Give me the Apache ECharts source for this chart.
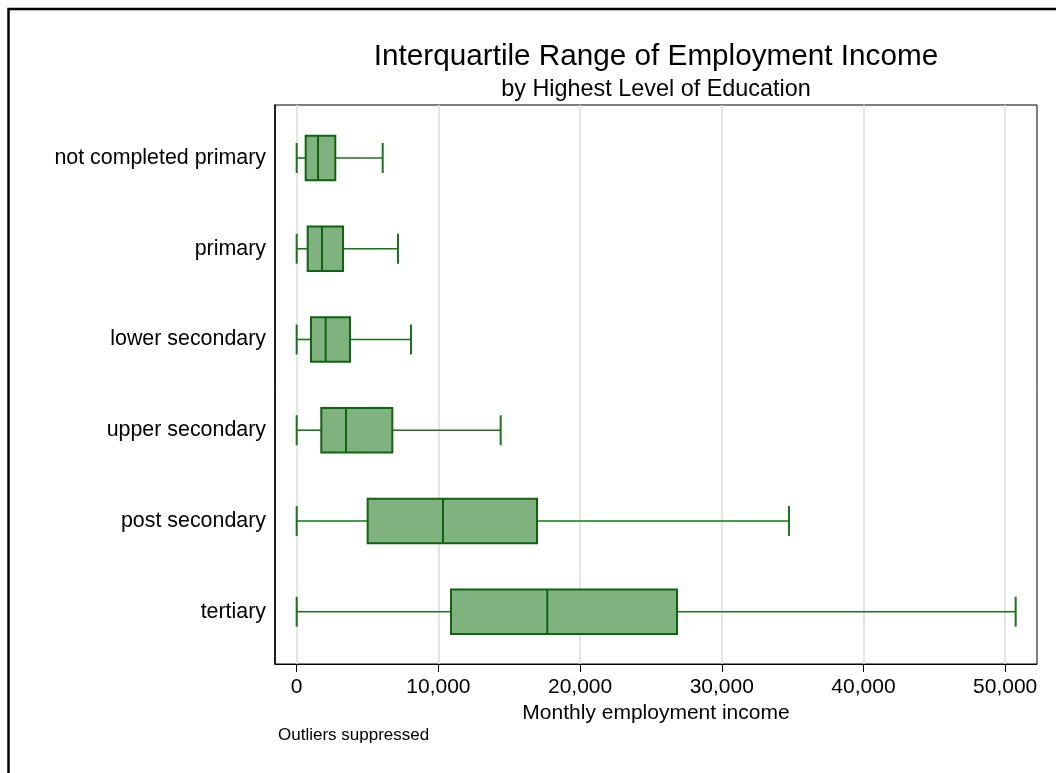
<!DOCTYPE html>
<html>
<head>
<meta charset="utf-8">
<title>Interquartile Range of Employment Income</title>
<script src="https://cdn.jsdelivr.net/npm/echarts@6/dist/echarts.min.js"></script>
<style>
  html, body { margin: 0; padding: 0; background: #fff; }
  #chart { width: 1056px; height: 773px; }
</style>
</head>
<body>
<div id="chart"></div>
<script>
// education levels, top to bottom
const categories = ['not completed primary', 'primary', 'lower secondary', 'upper secondary', 'post secondary', 'tertiary']
// box plot stats (monthly income), outliers suppressed
const lowerWhisker = [0, 0, 0, 0, 0, 0]
const q1 = [635, 776, 1009, 1737, 5010, 10890]
const median = [1503, 1786, 2046, 3479, 10325, 17686]
const q3 = [2725, 3267, 3762, 6748, 16960, 26840]
const upperWhisker = [6070, 7150, 8066, 14397, 34740, 50740]
const xTicks = [0, 10000, 20000, 30000, 40000, 50000]

const FONT = "'Liberation Sans', Arial, Helvetica, sans-serif"
const BOX_FILL = '#80b280'
const BOX_LINE = '#0d660d'
const WHISKER = '#177517'

const chart = echarts.init(document.getElementById('chart'))

const boxData = categories.map((name, i) => [i, lowerWhisker[i], q1[i], median[i], q3[i], upperWhisker[i]])

function renderBox(params, api) {
  const i = api.value(0)
  const y = api.coord([0, i])[1]
  const band = api.size([0, 1])[1]
  const x = k => api.coord([api.value(k), i])[0]
  const lo = x(1), a = x(2), m = x(3), b = x(4), hi = x(5)
  const half = band * 0.245
  const cap = band * 0.165
  const whisker = { stroke: WHISKER, lineWidth: 1.6 }
  const capStyle = { stroke: WHISKER, lineWidth: 2 }
  return {
    type: 'group',
    children: [
      { type: 'line', shape: { x1: lo, y1: y, x2: a, y2: y }, style: whisker },
      { type: 'line', shape: { x1: b, y1: y, x2: hi, y2: y }, style: whisker },
      { type: 'line', shape: { x1: lo, y1: y - cap, x2: lo, y2: y + cap }, style: capStyle },
      { type: 'line', shape: { x1: hi, y1: y - cap, x2: hi, y2: y + cap }, style: capStyle },
      { type: 'rect', shape: { x: a, y: y - half, width: b - a, height: half * 2 }, style: { fill: BOX_FILL, stroke: BOX_LINE, lineWidth: 2 } },
      { type: 'line', shape: { x1: m, y1: y - half, x2: m, y2: y + half }, style: { stroke: BOX_LINE, lineWidth: 2 } }
    ]
  }
}

const option = {
  animation: false,
  backgroundColor: '#fff',
  textStyle: { fontFamily: FONT },
  graphic: [
    {
      type: 'rect', silent: true,
      shape: { x: 8.5, y: 9, width: 1100, height: 800 },
      style: { fill: 'none', stroke: '#000', lineWidth: 2.5 }
    },
    {
      type: 'text', x: 656, y: 57,
      style: { text: 'Interquartile Range of Employment Income', fontSize: 29.7, fontFamily: FONT, fill: '#000', align: 'center', verticalAlign: 'middle' }
    },
    {
      type: 'text', x: 656, y: 89.5,
      style: { text: 'by Highest Level of Education', fontSize: 23.4, fontFamily: FONT, fill: '#000', align: 'center', verticalAlign: 'middle' }
    },
    {
      type: 'text', x: 278, y: 735,
      style: { text: 'Outliers suppressed', fontSize: 17, fontFamily: FONT, fill: '#000', align: 'left', verticalAlign: 'middle' }
    }
  ],
  grid: {
    left: 275, right: 19, top: 105, bottom: 109,
    show: true, borderColor: '#000', borderWidth: 1,
    outerBoundsMode: 'none'
  },
  xAxis: {
    type: 'value',
    min: -1530,
    max: 52245,
    name: 'Monthly employment income',
    nameLocation: 'middle',
    nameGap: 37,
    nameTextStyle: { fontSize: 21, color: '#000', fontFamily: FONT },
    axisLine: { show: true, onZero: false, lineStyle: { color: '#000', width: 1 } },
    axisTick: { show: true, customValues: xTicks, length: 8, lineStyle: { color: '#000', width: 1 } },
    axisLabel: {
      customValues: xTicks,
      formatter: v => v.toLocaleString('en-US'),
      fontSize: 21, color: '#000', fontFamily: FONT, margin: 13
    },
    splitLine: { show: true, lineStyle: { color: '#dcdcdc', width: 1.5 } }
  },
  yAxis: {
    type: 'value',
    inverse: true,
    min: -0.584,
    max: 5.576,
    axisLine: { show: true, onZero: false, lineStyle: { color: '#000', width: 1.5 } },
    axisTick: { show: false },
    splitLine: { show: false },
    axisLabel: {
      customValues: [0, 1, 2, 3, 4, 5],
      formatter: v => categories[Math.round(v)],
      fontSize: 21.4, color: '#000', fontFamily: FONT, margin: 9
    }
  },
  series: [
    {
      type: 'custom',
      name: 'Income',
      renderItem: renderBox,
      encode: { x: [1, 2, 3, 4, 5], y: 0 },
      data: boxData
    }
  ]
}

chart.setOption(option)
</script>
</body>
</html>
